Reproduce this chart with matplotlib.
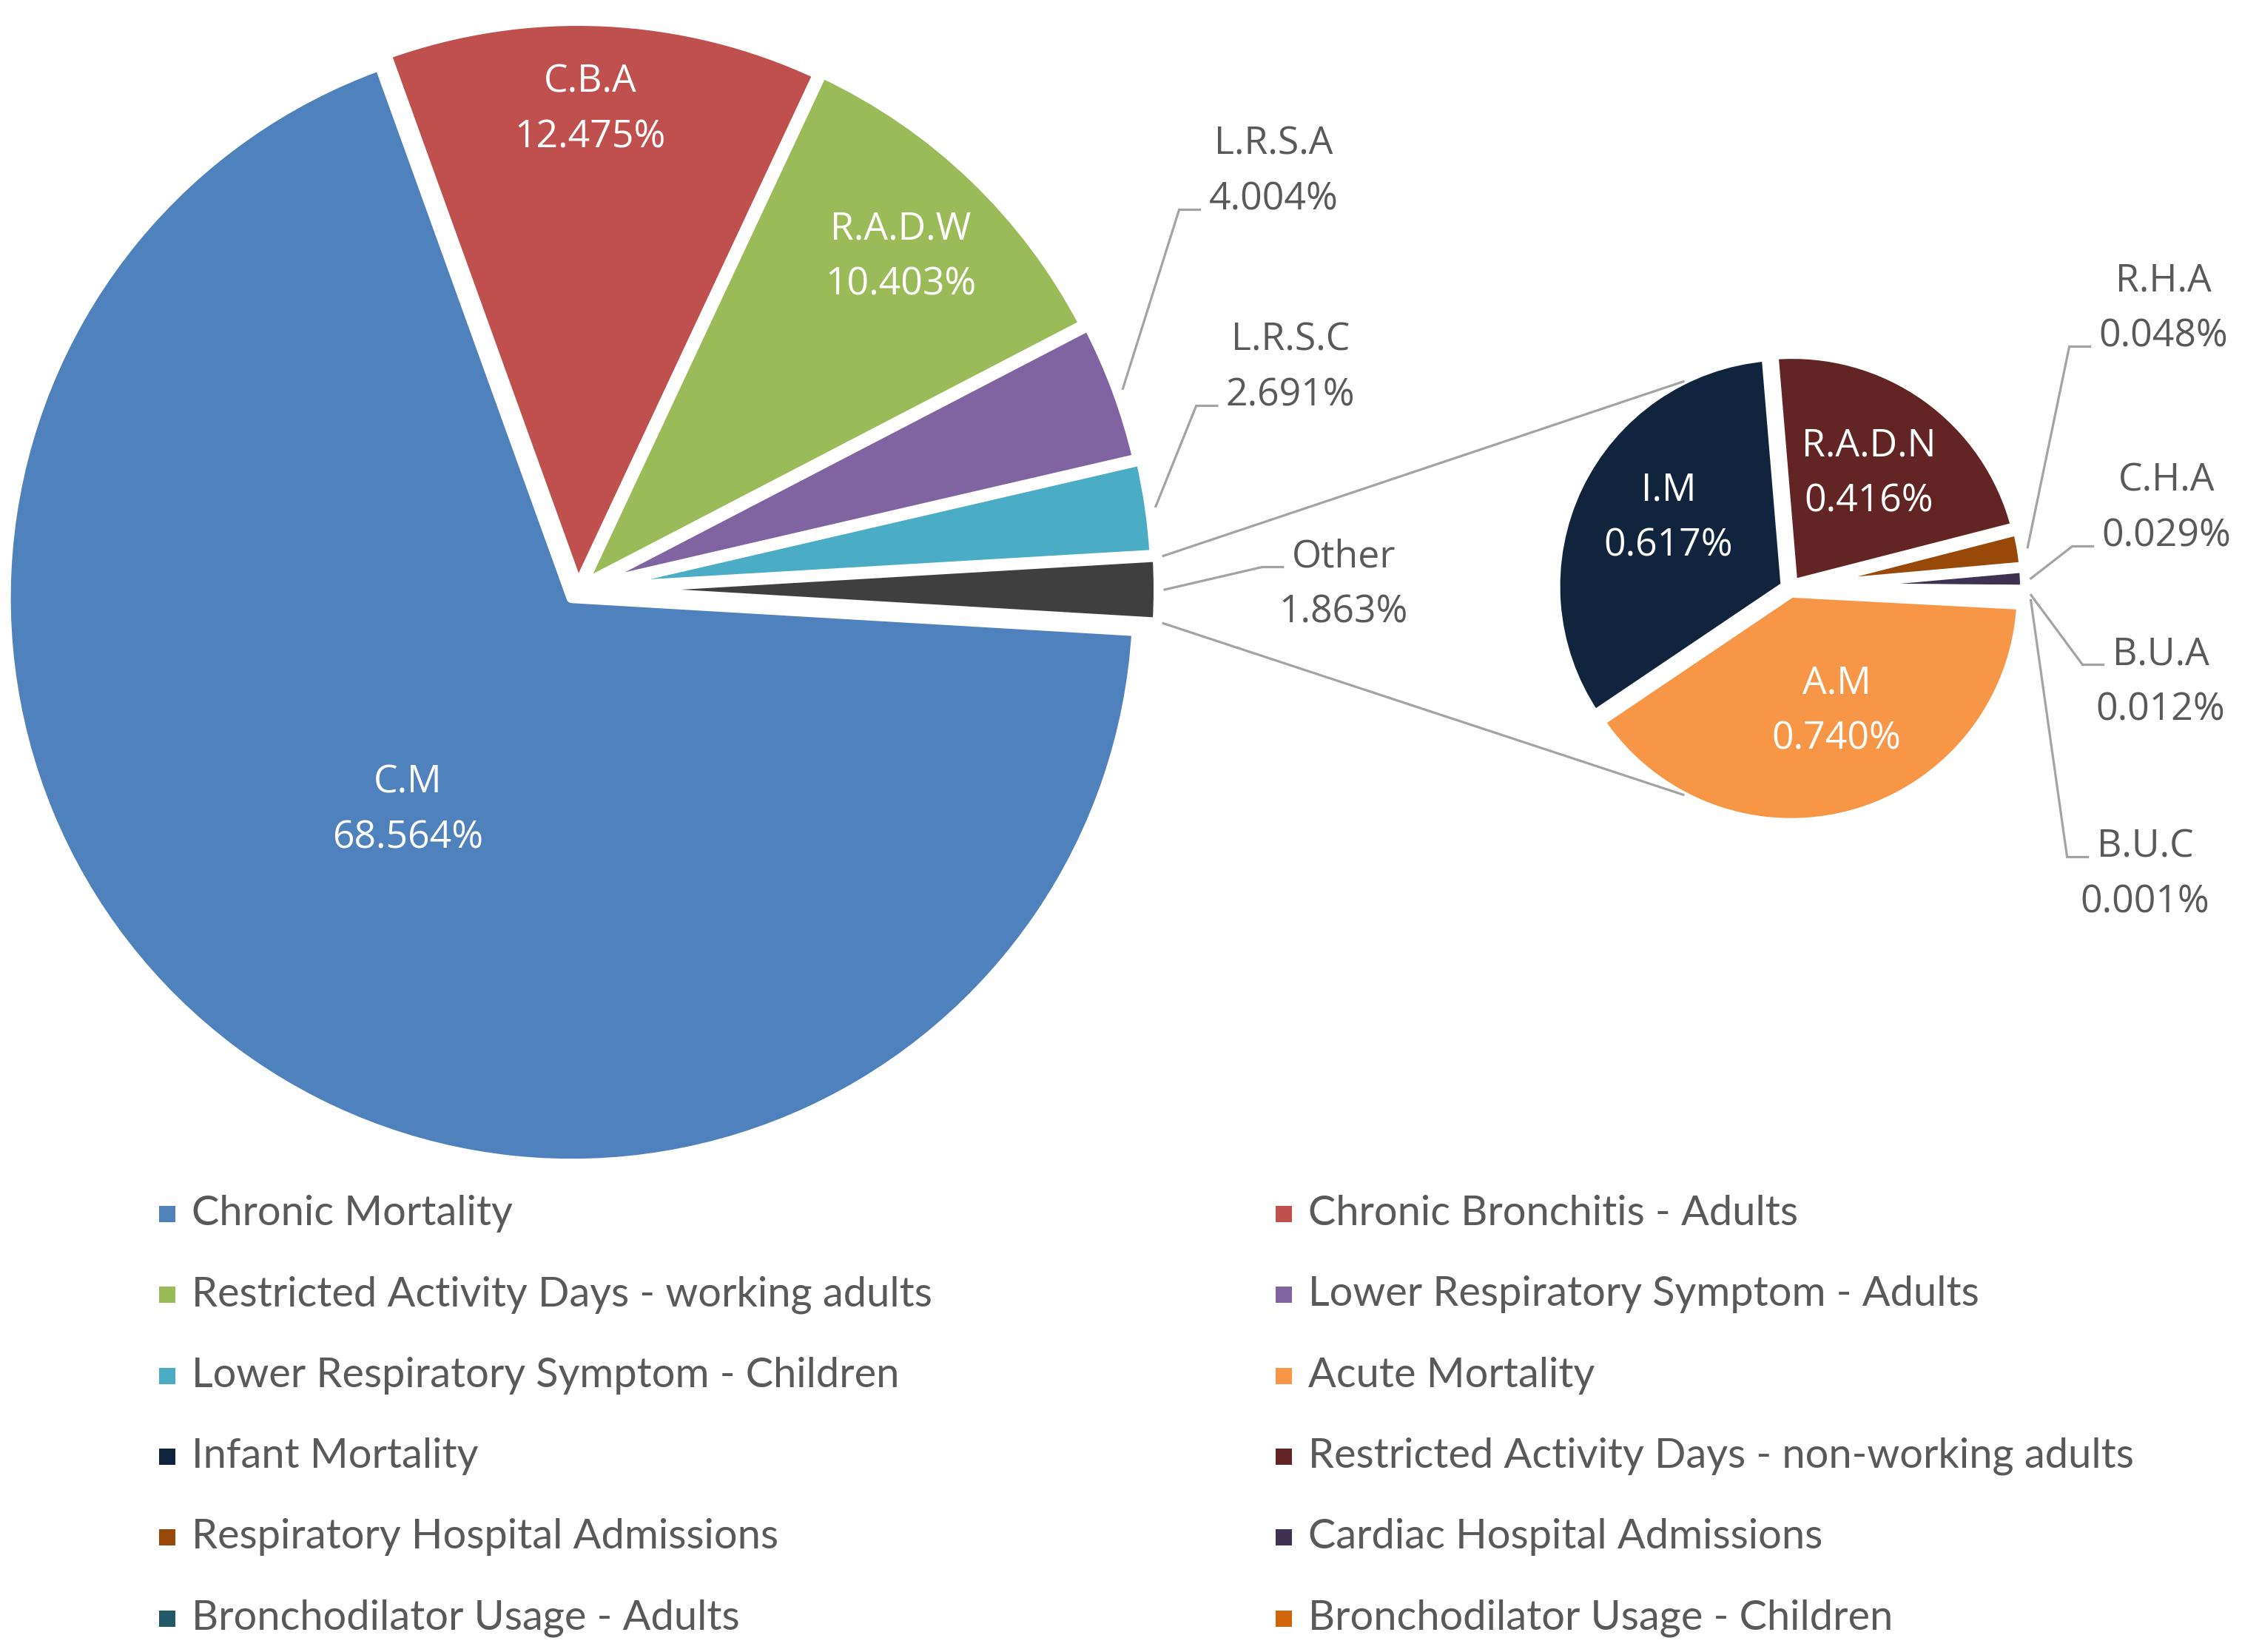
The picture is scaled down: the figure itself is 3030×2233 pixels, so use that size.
import matplotlib
matplotlib.use("Agg")
import matplotlib.pyplot as plt
from matplotlib.patches import Rectangle
import numpy as np

# ---------------- data ----------------
main_labels = ["C.M", "C.B.A", "R.A.D.W", "L.R.S.A", "L.R.S.C", "Other"]
main_values = [68.564, 12.475, 10.403, 4.004, 2.691, 1.863]

sec_labels = ["A.M", "I.M", "R.A.D.N", "R.H.A", "C.H.A", "B.U.A", "B.U.C"]
sec_values = [0.740, 0.617, 0.416, 0.048, 0.029, 0.012, 0.001]

legend_names = [
    "Chronic Mortality", "Chronic Bronchitis - Adults",
    "Restricted Activity Days - working adults", "Lower Respiratory Symptom - Adults",
    "Lower Respiratory Symptom - Children", "Acute Mortality",
    "Infant Mortality", "Restricted Activity Days - non-working adults",
    "Respiratory Hospital Admissions", "Cardiac Hospital Admissions",
    "Bronchodilator Usage - Adults", "Bronchodilator Usage - Children",
]

main_colors = ["#4F81BD", "#C0504D", "#9BBB59", "#8064A2", "#4BACC6", "#3F3F3F"]
sec_colors = ["#F79646", "#10243E", "#632523", "#984807", "#3F3151", "#215968", "#D0650C"]

# ---------------- layout (pixels, y from top) ----------------
W, H = 3030, 2233
DPI = 100
PX2PT = 72.0 / DPI

OM = (781, 797)       # main pie centre
RM = 765
main_explode = [14, 4, 8, 12, 16, 20]
O2 = (2419, 795)      # secondary pie centre
R2 = 312
sec_explode = [6, 6, 6, 6, 6, 6, 6]
EDGE_PX = 14

LABEL_FONT = ["Open Sans", "DejaVu Sans"]
LEGEND_FONT = ["Lato", "DejaVu Sans"]
LBL_CAP = 37          # cap height px
LBL_SIZE = LBL_CAP / 0.714 * PX2PT
LINE_PITCH = 75
TXT_GRAY = "#595959"
LINE_GRAY = "#A3A3A3"
LINE_PX = 3.2

# label layout: name -> (centre x, cap-centre y of first line)
inside_pos = {
    "C.M": (551, 1053), "C.B.A": (798, 106), "R.A.D.W": (1217, 305),
    "I.M": (2255, 658), "R.A.D.N": (2526, 598), "A.M": (2482, 919),
}
# name -> (centre x, cap-centre y of first line, line the leader attaches to)
outside_pos = {
    "L.R.S.A": (1721, 190, 1), "L.R.S.C": (1744, 455, 1), "Other": (1816, 748, 0),
    "R.H.A": (2924, 375, 1), "C.H.A": (2928, 645, 1),
    "B.U.A": (2920, 880, 0), "B.U.C": (2899, 1140, 0),
}


def Y(py):
    return H - py


fig = plt.figure(figsize=(W / DPI, H / DPI), dpi=DPI)
ax = fig.add_axes([0, 0, 1, 1])

wprops = dict(edgecolor="white", linewidth=EDGE_PX * PX2PT, joinstyle="round")

start_main = -main_values[-1] / sum(main_values) * 360.0 / 2.0
wm, _ = ax.pie(main_values, colors=main_colors, startangle=start_main,
               counterclock=False, center=(OM[0], Y(OM[1])), radius=RM,
               explode=main_explode, wedgeprops=wprops, normalize=True)

start_sec = -3.0
ws, _ = ax.pie(sec_values, colors=sec_colors, startangle=start_sec,
               counterclock=False, center=(O2[0], Y(O2[1])), radius=R2,
               explode=sec_explode, wedgeprops=wprops, normalize=True)

ax.set_xlim(0, W)
ax.set_ylim(0, H)
ax.set_aspect("equal")
ax.axis("off")

wedge_of = {}
for lab, w in zip(main_labels, wm):
    wedge_of[lab] = w
for lab, w in zip(sec_labels, ws):
    wedge_of[lab] = w
value_of = dict(zip(main_labels, main_values))
value_of.update(dict(zip(sec_labels, sec_values)))

# connector lines between "Other" and the secondary pie
wo = wedge_of["Other"]
cx, cy = wo.center
for th, ang2 in ((wo.theta2, 117.0), (wo.theta1, -117.0)):
    t = np.deg2rad(th)
    p1 = (cx + (wo.r + 6) * np.cos(t), cy + (wo.r + 6) * np.sin(t))
    a = np.deg2rad(ang2)
    p2 = (O2[0] + (R2 + 2) * np.cos(a), Y(O2[1]) + (R2 + 2) * np.sin(a))
    ax.plot([p1[0], p2[0]], [p1[1], p2[1]], color=LINE_GRAY, lw=LINE_PX * PX2PT,
            solid_capstyle="butt", zorder=1)


def two_line(lab, x, c1, color):
    val = f"{value_of[lab]:.3f}%"
    texts = []
    for i, s in enumerate([lab, val]):
        base = c1 + i * LINE_PITCH + LBL_CAP / 2
        texts.append(ax.text(x, Y(base), s, ha="center", va="baseline",
                             fontsize=LBL_SIZE, family=LABEL_FONT, color=color,
                             zorder=5))
    return texts


for lab, (x, c1) in inside_pos.items():
    two_line(lab, x, c1, "white")

fig.canvas.draw()
renderer = fig.canvas.get_renderer()
inv = ax.transData.inverted()

for lab, (x, c1, line) in outside_pos.items():
    texts = two_line(lab, x, c1, TXT_GRAY)
    bb = texts[line].get_window_extent(renderer)
    left = inv.transform((bb.x0, bb.y0))[0]
    base = c1 + line * LINE_PITCH + LBL_CAP / 2
    end = (left - 12, Y(base))
    elbow = (left - 40, Y(base))
    w = wedge_of[lab]
    t = np.deg2rad((w.theta1 + w.theta2) / 2)
    start = (w.center[0] + (w.r + 8) * np.cos(t), w.center[1] + (w.r + 8) * np.sin(t))
    ax.plot([start[0], elbow[0], end[0]], [start[1], elbow[1], end[1]],
            color=LINE_GRAY, lw=LINE_PX * PX2PT, solid_joinstyle="miter", zorder=1)

# ---------------- legend ----------------
legend_wedges = [wm[0], wm[1], wm[2], wm[3], wm[4], ws[0], ws[1], ws[2], ws[3], ws[4], ws[5], ws[6]]
LEG_CAP = 40
LEG_SIZE = LEG_CAP / 0.7165 * PX2PT
col_marker_x = [215, 1724]
row0 = 1636
row_pitch = 109.3
msize = 22
for i, (name, w) in enumerate(zip(legend_names, legend_wedges)):
    col = i % 2
    row = i // 2
    cyr = row0 + row * row_pitch
    mx = col_marker_x[col]
    ax.add_patch(Rectangle((mx, Y(cyr + 5 + msize / 2)), msize, msize,
                           facecolor=w.get_facecolor(), edgecolor="none"))
    ax.text(mx + msize + 22, Y(cyr + LEG_CAP / 2), name, ha="left", va="baseline",
            fontsize=LEG_SIZE, family=LEGEND_FONT, color=TXT_GRAY)

fig.savefig("out.png", dpi=DPI, facecolor="white")
